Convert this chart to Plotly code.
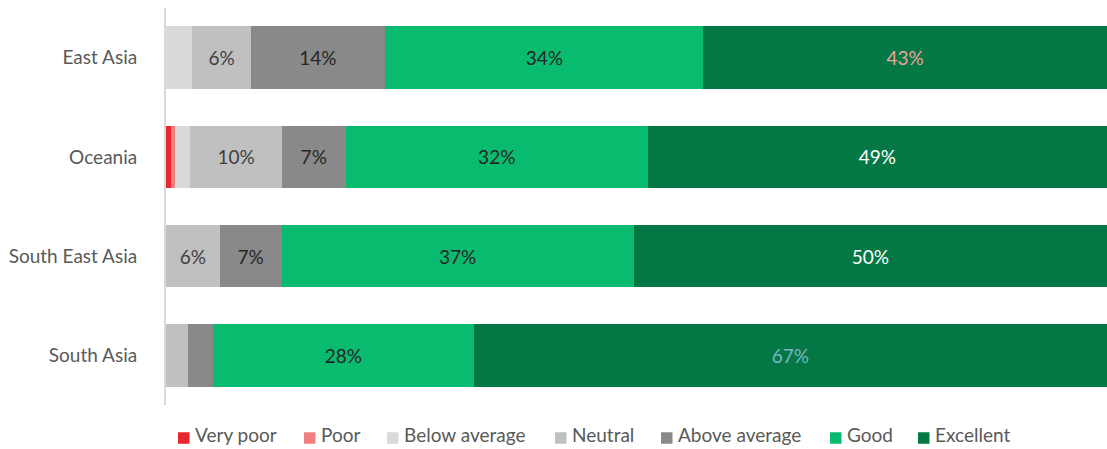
import plotly.graph_objects as go

regions = ["East Asia", "Oceania", "South East Asia", "South Asia"]
series_names = ["Very poor", "Poor", "Below average", "Neutral", "Above average", "Good", "Excellent"]
very_poor = [0.0, 0.5, 0.0, 0.0]
poor = [0.0, 0.5, 0.0, 0.0]
below_average = [2.8, 1.6, 0.0, 0.0]
neutral = [6.2, 9.7, 5.7, 2.3]
above_average = [14.3, 6.8, 6.6, 2.7]
good = [33.8, 32.1, 37.4, 27.7]
excellent = [42.9, 48.8, 50.3, 67.3]

values = [very_poor, poor, below_average, neutral, above_average, good, excellent]
colors = ["#e8262d", "#f08080", "#d9d9d9", "#c0c0c0", "#898989", "#08bb6f", "#037845"]
text_colors = [
    ["#404040"] * 4,
    ["#404040"] * 4,
    ["#404040"] * 4,
    ["#404040"] * 4,
    ["#262626"] * 4,
    ["#262626"] * 4,
    ["#e9a3a0", "#ffffff", "#ffffff", "#7fb3c4"],
]

FONT = "Lato, Liberation Sans, Arial"
FS = 19
W, H = 1107, 449
ML, MR, MT, MB = 166, 0, 8, 44
PW, PH = W - ML - MR, H - MT - MB

fig = go.Figure()
for name, vals, col, tcol in zip(series_names, values, colors, text_colors):
    labels = [f"{round(v)}%" if v >= 5 else "" for v in vals]
    fig.add_trace(go.Bar(
        y=regions, x=vals, name=name, orientation="h",
        marker=dict(color=col, line=dict(width=0)),
        text=labels, textposition="inside", insidetextanchor="middle",
        textfont=dict(color=tcol, size=FS, family=FONT),
        constraintext="none", hoverinfo="x+name", showlegend=False,
    ))

# manual legend (to match the original spacing)
legend_px = [178, 304, 387, 555, 661, 830, 918]
legend_cy = 438
text_cy = 435
sq = 11.5
shapes, annotations = [], []
for name, col, px in zip(series_names, colors, legend_px):
    x0 = (px - ML) / PW
    x1 = (px + sq - ML) / PW
    y0 = (H - MB - (legend_cy + sq / 2)) / PH
    y1 = (H - MB - (legend_cy - sq / 2)) / PH
    shapes.append(dict(type="rect", xref="paper", yref="paper", x0=x0, x1=x1, y0=y0, y1=y1,
                       fillcolor=col, line=dict(width=0)))
    annotations.append(dict(text=name, xref="paper", yref="paper",
                            x=(px + sq + 4 - ML) / PW, y=(H - MB - text_cy) / PH,
                            xanchor="left", yanchor="middle", showarrow=False, borderpad=0,
                            font=dict(size=FS, color="#595959", family=FONT)))

fig.update_layout(
    barmode="stack",
    bargap=0.37,
    width=W, height=H,
    margin=dict(l=ML, r=MR, t=MT, b=MB),
    plot_bgcolor="white", paper_bgcolor="white",
    font=dict(family=FONT, size=FS, color="#595959"),
    xaxis=dict(range=[0, 100], visible=False, fixedrange=True),
    yaxis=dict(autorange="reversed", showline=True, linecolor="#d9d9d9", linewidth=2,
               ticks="", ticklen=0, showgrid=False, zeroline=False,
               tickfont=dict(size=FS, color="#595959", family=FONT), ticklabelstandoff=23),
    shapes=shapes,
    annotations=annotations,
    showlegend=False,
)

fig.write_html("out.html")
